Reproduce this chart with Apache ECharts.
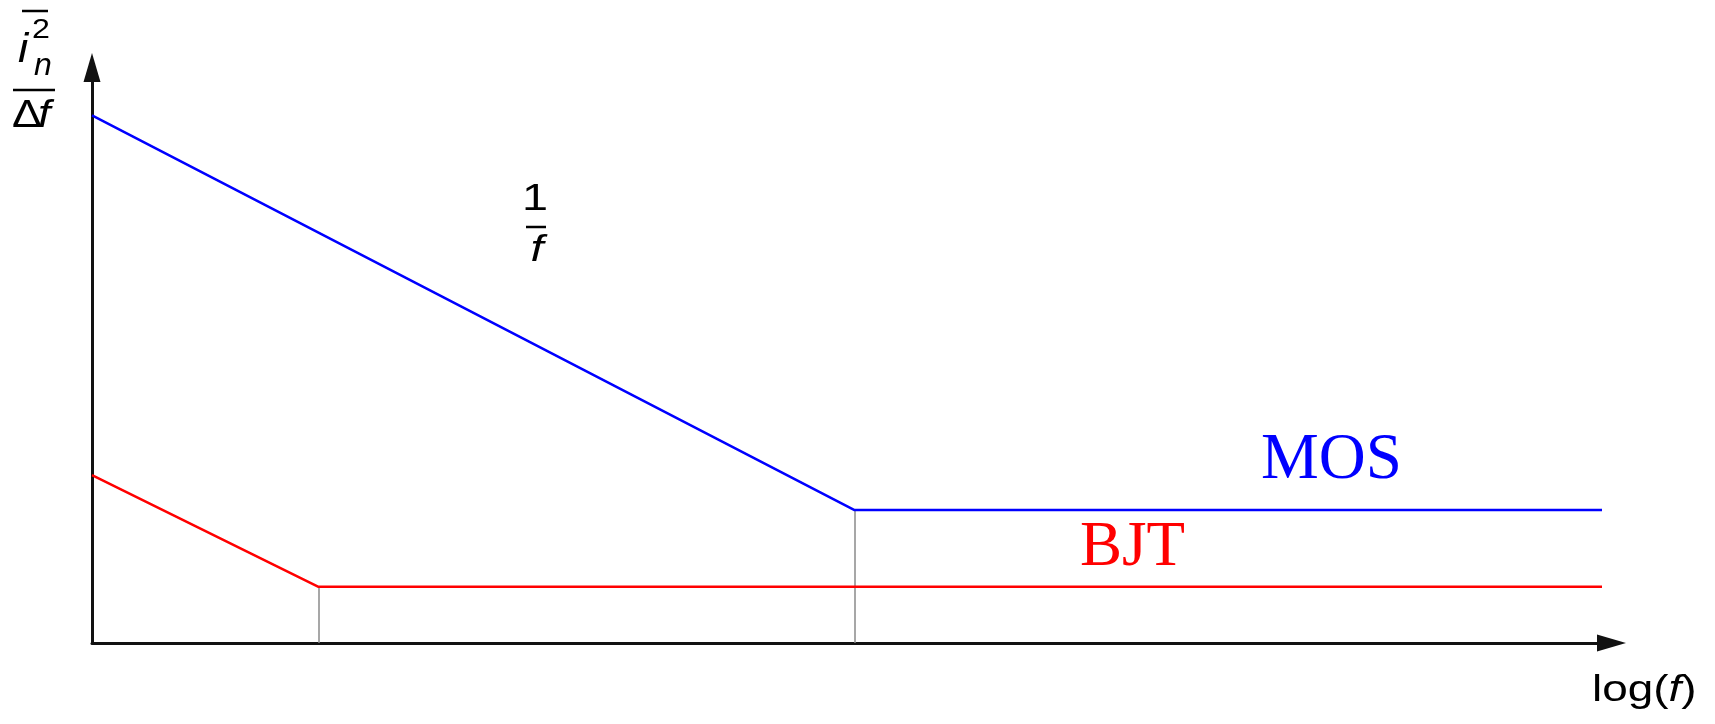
<!DOCTYPE html>
<html>
<head>
<meta charset="utf-8">
<title>Noise spectral density: MOS vs BJT</title>
<script src="https://cdn.jsdelivr.net/npm/echarts@6/dist/echarts.min.js"></script>
<style>
  html, body { margin: 0; padding: 0; background: #ffffff; }
  #chart { width: 1715px; height: 724px; }
</style>
</head>
<body>
<div id="chart"></div>
<script>
// log(f) positions of the break points (arbitrary units, 0..100)
const bjtFreq = [0, 15, 100];
const mosFreq = [0, 50.5, 100];
// noise density levels (arbitrary units, 0..100)
const bjtNoise = [29.3, 9.8, 9.8];
const mosNoise = [92.1, 23.2, 23.2];
// corner frequencies where 1/f noise meets the white-noise floor
const bjtCorner = 15;
const mosCorner = 50.5;
const bjtFloor = 9.8;
const mosFloor = 23.2;

const toPairs = (xs, ys) => xs.map((x, i) => [x, ys[i]]);

const chart = echarts.init(document.getElementById('chart'), null, { renderer: 'canvas' });

const SANS = 'Liberation Sans';
const SERIF = 'Liberation Serif';

// small helper for a single text run
function label(x, y, text, size, opts) {
  opts = opts || {};
  return {
    type: 'text', x: x, y: y, scaleX: opts.scaleX || 1, z: 10,
    style: {
      text: text,
      fontSize: size,
      fontFamily: opts.family || SANS,
      fontStyle: opts.italic ? 'italic' : 'normal',
      fill: opts.color || '#000',
      align: opts.align || 'left',
      verticalAlign: 'middle'
    }
  };
}

function bar(x1, x2, y) {
  return { type: 'line', shape: { x1: x1, y1: y, x2: x2, y2: y }, style: { stroke: '#000', lineWidth: 2.5 } };
}

chart.setOption({
  animation: false,
  backgroundColor: '#ffffff',
  grid: { left: 92, right: 113, top: 70, bottom: 81, containLabel: false },
  xAxis: {
    type: 'value', min: 0, max: 100,
    axisLine: {
      show: true, onZero: false,
      lineStyle: { color: '#111', width: 3 },
      symbol: ['none', 'triangle'], symbolSize: [17, 29], symbolOffset: [0, 9.5]
    },
    axisTick: { show: false }, axisLabel: { show: false }, splitLine: { show: false }
  },
  yAxis: {
    type: 'value', min: 0, max: 100,
    axisLine: {
      show: true, onZero: false,
      lineStyle: { color: '#111', width: 3 },
      symbol: ['none', 'triangle'], symbolSize: [17, 29], symbolOffset: [0, 2.5]
    },
    axisTick: { show: false }, axisLabel: { show: false }, splitLine: { show: false }
  },
  series: [
    {
      name: 'BJT', type: 'line', data: toPairs(bjtFreq, bjtNoise),
      showSymbol: false, symbol: 'none', z: 3,
      lineStyle: { color: '#ff0000', width: 2.5 },
      markLine: {
        silent: true, symbol: 'none', label: { show: false }, z: 1,
        lineStyle: { color: '#8a8a8a', width: 1.5, type: 'solid' },
        data: [[{ coord: [bjtCorner, 0] }, { coord: [bjtCorner, bjtFloor] }]]
      }
    },
    {
      name: 'MOS', type: 'line', data: toPairs(mosFreq, mosNoise),
      showSymbol: false, symbol: 'none', z: 3,
      lineStyle: { color: '#0000ff', width: 2.5 },
      markLine: {
        silent: true, symbol: 'none', label: { show: false }, z: 1,
        lineStyle: { color: '#8a8a8a', width: 1.5, type: 'solid' },
        data: [[{ coord: [mosCorner, 0] }, { coord: [mosCorner, mosFloor] }]]
      }
    }
  ],
  graphic: [
    // y-axis label: overline(i_n^2) / Δf
    bar(22, 48, 11),
    label(18, 51, 'i', 40, { italic: true, scaleX: 1.15 }),
    label(32, 30, '2', 28, { scaleX: 1.15 }),
    label(34, 66, 'n', 32, { italic: true, scaleX: 1.0 }),
    bar(13, 55, 90),
    label(12, 116.5, 'Δ', 39, { scaleX: 1.15 }),
    label(38, 116.5, 'f', 39, { italic: true, scaleX: 1.15 }),
    // 1/f annotation
    label(535, 200.5, '1', 36, { align: 'center', scaleX: 1.3 }),
    bar(526, 546, 227),
    label(537, 250.5, 'f', 36, { italic: true, align: 'center', scaleX: 1.3 }),
    // x-axis label: log(f) with italic f
    {
      type: 'text', x: 1592, y: 691, scaleX: 1.24, z: 10,
      style: {
        text: '{a|log(}{b|f}{a|)}',
        align: 'left', verticalAlign: 'middle', fill: '#000',
        rich: {
          a: { fontSize: 37, fontFamily: SANS, fontStyle: 'normal', fill: '#000' },
          b: { fontSize: 37, fontFamily: SANS, fontStyle: 'italic', fill: '#000' }
        }
      }
    },
    // curve names
    label(1261, 461, 'MOS', 65, { family: SERIF, color: '#0000ff' }),
    label(1080, 548, 'BJT', 63, { family: SERIF, color: '#ff0000' })
  ]
});
</script>
</body>
</html>
